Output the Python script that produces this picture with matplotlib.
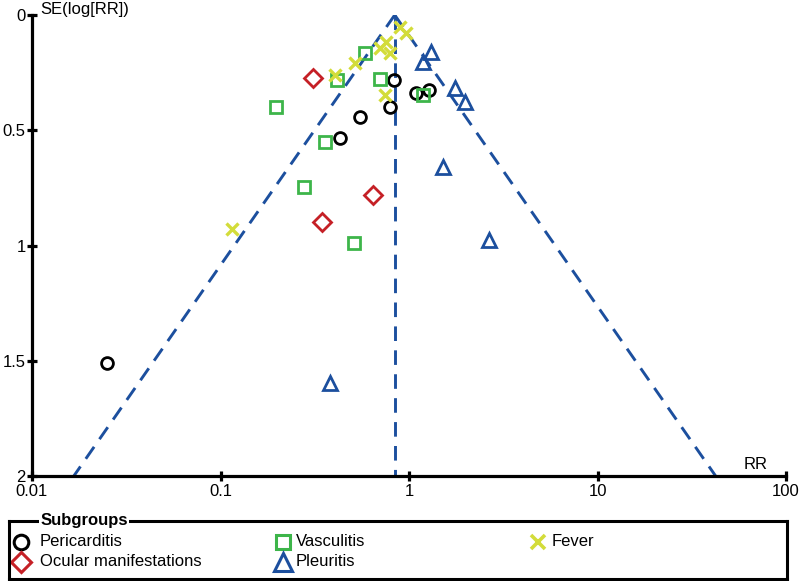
import numpy as np
import matplotlib
matplotlib.use('Agg')
import matplotlib.pyplot as plt

plt.rcParams['font.family'] = ['Liberation Sans', 'DejaVu Sans']

# Funnel plot data: relative risk and SE(log RR) per subgroup
peri_rr = [0.025, 0.43, 0.552, 0.789, 0.83, 1.09, 1.275]
peri_se = [1.51, 0.534, 0.441, 0.398, 0.282, 0.34, 0.325]

vasc_rr = [0.196, 0.36, 0.417, 0.582, 0.698, 1.185, 0.277, 0.51]
vasc_se = [0.40, 0.55, 0.282, 0.163, 0.278, 0.347, 0.748, 0.99]

fever_rr = [0.115, 0.404, 0.515, 0.698, 0.758, 0.797, 0.743, 0.90, 0.967]
fever_se = [0.93, 0.26, 0.207, 0.145, 0.116, 0.166, 0.347, 0.05, 0.08]

ocul_rr = [0.308, 0.347, 0.644]
ocul_se = [0.272, 0.897, 0.781]

pleu_rr = [1.31, 1.185, 1.745, 1.97, 1.51, 2.67, 0.383]
pleu_se = [0.159, 0.203, 0.318, 0.376, 0.66, 0.976, 1.598]

pooled_rr = 0.84

c_black = '#000000'
c_green = '#3db54a'
c_yellow = '#d3dc3a'
c_red = '#c52026'
c_blue = '#1c4f9e'

groups = [
    ('Pericarditis', peri_rr, peri_se, 'o', c_black, 8.5, 10.5),
    ('Vasculitis', vasc_rr, vasc_se, 's', c_green, 8, 9.5),
    ('Fever', fever_rr, fever_se, 'x', c_yellow, 8.5, 10),
    ('Ocular manifestations', ocul_rr, ocul_se, 'D', c_red, 9, 10.5),
    ('Pleuritis', pleu_rr, pleu_se, '^', c_blue, 10.5, 12.5),
]

fig = plt.figure(figsize=(8, 5.81), dpi=100)
ax = fig.add_axes([32/800, 1-476/581, 754/800, 461/581])

# funnel (95% pseudo confidence limits) and pooled estimate
se_line = np.array([0.0, 2.0])
dash = (0, (5, 3.2))
ax.plot(pooled_rr*np.exp(-1.96*se_line), se_line, color=c_blue, lw=2.1,
        ls=dash, zorder=1)
ax.plot(pooled_rr*np.exp(1.96*se_line), se_line, color=c_blue, lw=2.1,
        ls=dash, zorder=1)
ax.plot([pooled_rr, pooled_rr], se_line, color=c_blue, lw=2.1,
        ls=dash, zorder=1)

for name, rr, se, mk, col, ms, _ in groups:
    ax.plot(rr, se, ls='none', marker=mk, ms=ms, mfc='none', mec=col,
            mew=2.4 if mk == 'x' else 2.0, zorder=3)

ax.set_xscale('log')
ax.set_xlim(0.01, 100)
ax.set_ylim(2, 0)
ax.set_xticks([0.01, 0.1, 1, 10, 100])
ax.set_xticklabels(['0.01', '0.1', '1', '10', '100'])
ax.xaxis.set_minor_locator(matplotlib.ticker.NullLocator())
ax.set_yticks([0, 0.5, 1, 1.5, 2])
ax.set_yticklabels(['0', '0.5', '1', '1.5', '2'])

for s in ['top', 'right']:
    ax.spines[s].set_visible(False)
for s in ['left', 'bottom']:
    ax.spines[s].set_linewidth(2.3)
ax.tick_params(direction='inout', length=7, width=2.3, labelsize=12)
ax.tick_params(axis='x', pad=2.5)
ax.tick_params(axis='y', pad=1)

ax.text(0.0106, 1.013, 'SE(log[RR])', transform=ax.transAxes,
        ha='left', va='center', fontsize=12, clip_on=False)
ax.text(0.976, 0.008, 'RR', transform=ax.transAxes,
        ha='right', va='bottom', fontsize=12)

# legend box
lax = fig.add_axes([9/800, 2/581, 777.7/800, 58.3/581])
lax.set_xlim(0, 1)
lax.set_ylim(0, 1)
lax.set_xticks([])
lax.set_yticks([])
for s in lax.spines.values():
    s.set_linewidth(2.2)
lax.text(0.04, 1.0, 'Subgroups', fontsize=12, fontweight='bold',
         ha='left', va='center', clip_on=False,
         bbox=dict(facecolor='white', edgecolor='none', pad=1))

leg_pos = [(0.0154, 0.04, 0.64), (0.352, 0.369, 0.64), (0.68, 0.698, 0.64),
           (0.0154, 0.04, 0.297), (0.352, 0.369, 0.297)]
for (name, rr, se, mk, col, _, lms), (mx, tx, ty) in zip(groups, leg_pos):
    lax.plot([mx], [ty], ls='none', marker=mk, ms=lms, mfc='none', mec=col,
             mew=2.6 if mk == 'x' else 2.2, clip_on=False)
    lax.text(tx, ty, name, fontsize=12, ha='left', va='center')

fig.savefig('out.png', dpi=100)
